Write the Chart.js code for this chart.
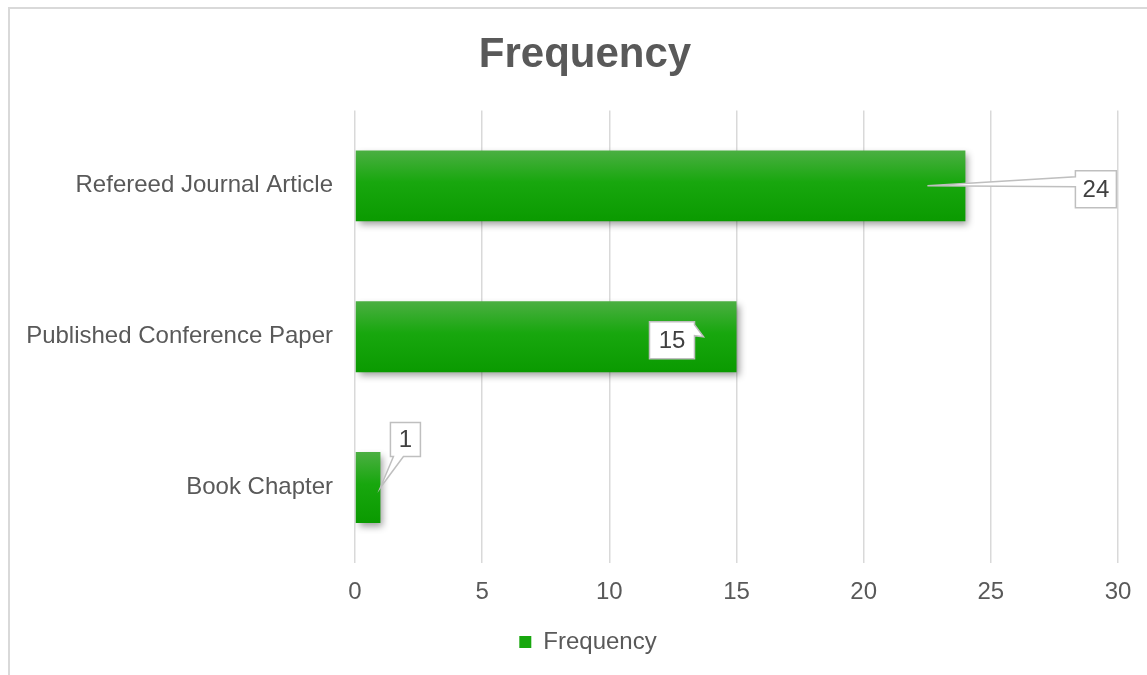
<!DOCTYPE html>
<html>
<head>
<meta charset="utf-8">
<title>Frequency</title>
<script src="https://cdn.jsdelivr.net/npm/chart.js@4"></script>
<style>
  html, body { margin: 0; padding: 0; background: #fff; }
  #wrap { width: 1147px; height: 675px; position: relative; }
</style>
</head>
<body>
<div id="wrap"><canvas id="myChart" width="1147" height="675"></canvas></div>
<script>
// =======================
// DATA
// =======================
const categories = ["Refereed Journal Article", "Published Conference Paper", "Book Chapter"];
const frequency = [24, 15, 1];
const xTicks = [0, 5, 10, 15, 20, 25, 30];

const GREY_TEXT = "#595959";
const GRID = "#d9d9d9";
const FONT = "'Liberation Sans', Arial, sans-serif";

// green bar fill, light on top, dark at the bottom
function barGradient(ctx, top, bottom) {
  const g = ctx.createLinearGradient(0, top, 0, bottom);
  g.addColorStop(0, "#4caf43");
  g.addColorStop(0.45, "#18a70e");
  g.addColorStop(1, "#0a9a00");
  return g;
}

// outer frame of the chart
const framePlugin = {
  id: "frame",
  beforeDraw(chart) {
    const ctx = chart.ctx;
    ctx.save();
    ctx.fillStyle = "#fff";
    ctx.fillRect(0, 0, chart.width, chart.height);
    ctx.strokeStyle = GRID;
    ctx.lineWidth = 2;
    ctx.strokeRect(9, 8, chart.width + 20, chart.height + 20);
    ctx.restore();
  }
};

// title and legend are centred on the whole frame, not the full canvas
const centerPlugin = {
  id: "centerBlocks",
  afterLayout(chart) {
    if (chart.titleBlock) chart.titleBlock.left = 52;
    if (chart.legend) chart.legend.left = 58;
  }
};

// soft drop shadow under the bars
const shadowPlugin = {
  id: "barShadow",
  beforeDatasetsDraw(chart) {
    const ctx = chart.ctx;
    ctx.save();
    ctx.shadowColor = "rgba(0,0,0,0.38)";
    ctx.shadowBlur = 7;
    ctx.shadowOffsetX = 3;
    ctx.shadowOffsetY = 4;
  },
  afterDatasetsDraw(chart) {
    chart.ctx.restore();
  }
};

// callout boxes with a pointer tail
// anchor: offset from bar end; box: left/top offset from bar end, w/h
// tail: side of the box, base positions along it
const calloutPlugin = {
  id: "callouts",
  afterDatasetsDraw(chart, args, opts) {
    const ctx = chart.ctx;
    const meta = chart.getDatasetMeta(0);
    const values = chart.data.datasets[0].data;

    meta.data.forEach((bar, i) => {
      const c = opts.items[i];
      const ax = bar.x + c.anchorDx;
      const ay = bar.y;
      const l = bar.x + c.dx, t = bar.y + c.dy;
      const r = l + c.w, b = t + c.h;

      ctx.save();
      ctx.beginPath();
      ctx.moveTo(l, t);
      if (c.side === "right") {
        ctx.lineTo(r, t);
        ctx.lineTo(r, t + c.b1);
        ctx.lineTo(ax, ay);
        ctx.lineTo(r, t + c.b2);
        ctx.lineTo(r, b);
        ctx.lineTo(l, b);
      } else if (c.side === "bottom") {
        ctx.lineTo(r, t);
        ctx.lineTo(r, b);
        ctx.lineTo(l + c.b2, b);
        ctx.lineTo(ax, ay);
        ctx.lineTo(l + c.b1, b);
        ctx.lineTo(l, b);
      } else {
        ctx.lineTo(r, t);
        ctx.lineTo(r, b);
        ctx.lineTo(l, b);
        ctx.lineTo(l, t + c.b2);
        ctx.lineTo(ax, ay);
        ctx.lineTo(l, t + c.b1);
      }
      ctx.closePath();
      ctx.fillStyle = "#fff";
      ctx.fill();
      ctx.strokeStyle = "#bfbfbf";
      ctx.lineWidth = 1.5;
      ctx.stroke();

      ctx.fillStyle = "#404040";
      ctx.font = "24px " + FONT;
      ctx.textAlign = "center";
      ctx.textBaseline = "middle";
      ctx.fillText(String(values[i]), (l + r) / 2, (t + b) / 2 + 1);
      ctx.restore();
    });
  }
};

const ctx = document.getElementById("myChart");

new Chart(ctx, {
  type: "bar",
  data: {
    labels: categories,
    datasets: [
      {
        label: "Frequency",
        data: frequency,
        backgroundColor: (c) => {
          const chart = c.chart;
          if (!chart.chartArea || c.dataIndex === undefined) return "#18a70e";
          const y = chart.scales.y.getPixelForValue(c.dataIndex);
          return barGradient(chart.ctx, y - 36, y + 36);
        },
        borderWidth: 0,
        barPercentage: 0.47,
        categoryPercentage: 1
      }
    ]
  },
  options: {
    indexAxis: "y",
    responsive: false,
    animation: false,
    layout: {
      padding: { top: 0, right: 29, bottom: 11, left: 0 }
    },
    plugins: {
      title: {
        display: true,
        text: "Frequency",
        color: GREY_TEXT,
        font: { family: FONT, size: 42, weight: "bold" },
        padding: { top: 30, bottom: 30 }
      },
      legend: {
        position: "bottom",
        labels: {
          color: GREY_TEXT,
          font: { family: FONT, size: 24 },
          boxWidth: 12,
          boxHeight: 12,
          padding: 10,
          generateLabels: (chart) => [{
            text: "Frequency",
            fillStyle: "#18a70e",
            strokeStyle: "#18a70e",
            lineWidth: 0,
            fontColor: GREY_TEXT,
            datasetIndex: 0
          }]
        }
      },
      tooltip: { enabled: false },
      callouts: {
        items: [
          { anchorDx: -38, dx: 110, dy: -15, w: 41, h: 37, side: "left", b1: 6, b2: 16 },
          { anchorDx: -33, dx: -87, dy: -15, w: 45, h: 37, side: "right", b1: 3, b2: 14 },
          { anchorDx: 0, dx: 10, dy: -65, w: 30, h: 34, side: "bottom", b1: 3, b2: 13 }
        ]
      }
    },
    scales: {
      x: {
        min: 0,
        max: 30,
        afterBuildTicks: (axis) => {
          axis.ticks = xTicks.map(v => ({ value: v }));
        },
        afterFit: (axis) => { axis.height = 57; },
        grid: { color: GRID, lineWidth: 1.5, drawTicks: false },
        border: { display: false },
        ticks: {
          color: GREY_TEXT,
          font: { family: FONT, size: 24 },
          padding: 15
        }
      },
      y: {
        afterFit: (axis) => { axis.width = 355; },
        grid: { display: false },
        border: { display: false },
        ticks: {
          color: GREY_TEXT,
          font: { family: FONT, size: 24 },
          padding: 14
        }
      }
    }
  },
  plugins: [framePlugin, centerPlugin, shadowPlugin, calloutPlugin]
});
</script>
</body>
</html>
